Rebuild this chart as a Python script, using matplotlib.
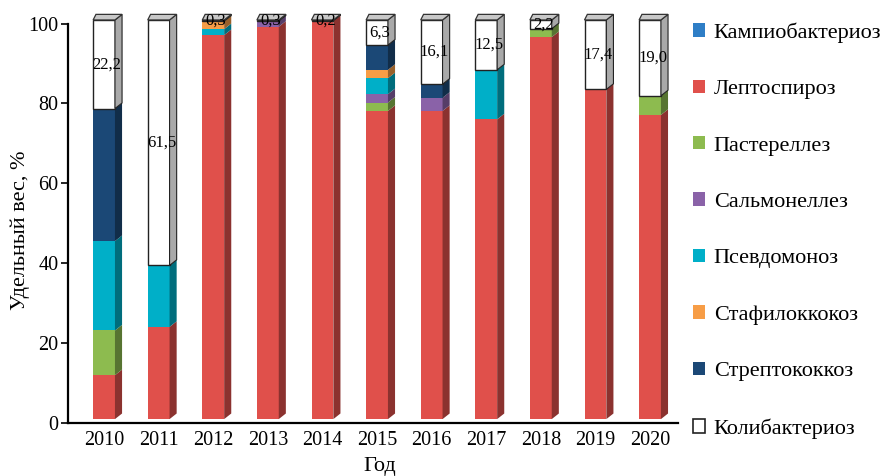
import matplotlib
matplotlib.use("Agg")
import matplotlib.pyplot as plt
from matplotlib.patches import Polygon, Patch
import matplotlib.colors as mcolors
import numpy as np

plt.rcParams['font.family'] = ['Liberation Serif', 'DejaVu Serif']

years = [2010, 2011, 2012, 2013, 2014, 2015, 2016, 2017, 2018, 2019, 2020]

# shares, %, bottom to top of each column
campylo = [0, 0, 0, 0, 0, 0, 0, 0, 0, 0, 0]
lepto = [11.0, 23.1, 96.2, 98.3, 99.8, 77.2, 77.2, 75.1, 95.7, 82.6, 76.2]
pasteur = [11.2, 0, 0, 0, 0, 2.1, 0, 0, 2.1, 0, 4.8]
salmon = [0, 0, 0, 1.4, 0, 2.1, 3.3, 0, 0, 0, 0]
pseudo = [22.4, 15.4, 1.5, 0, 0, 4.0, 0, 12.4, 0, 0, 0]
staph = [0, 0, 2.0, 0, 0, 2.1, 0, 0, 0, 0, 0]
strepto = [33.2, 0, 0, 0, 0, 6.2, 3.4, 0, 0, 0, 0]
coli = [22.2, 61.5, 0.3, 0.3, 0.2, 6.3, 16.1, 12.5, 2.2, 17.4, 19.0]

names = ["Кампиобактериоз", "Лептоспироз", "Пастереллез", "Сальмонеллез",
         "Псевдомоноз", "Стафилоккокоз", "Стрептококкоз", "Колибактериоз"]
series = [campylo, lepto, pasteur, salmon, pseudo, staph, strepto, coli]
colors = ["#2E7EC6", "#E0504B", "#8DBB4F", "#8A62A8", "#00AFC8", "#F79D46",
          "#1B4876", "#FFFFFF"]

# fake 3D look
W = 0.40      # front face width
DX = 0.13     # depth, x units
DY = 1.4      # depth, y units
FLOOR = 0.9   # columns stand a bit behind the axis line


def darker(c, f=0.62):
    r, g, b = mcolors.to_rgb(c)
    return (r * f, g * f, b * f)


fig = plt.figure(figsize=(8.89, 4.76), dpi=100)
ax = fig.add_axes([0.0765, 0.112, 0.686, 0.888])

x = np.arange(len(years))
bottom = np.full(len(years), FLOOR)
for vals, col, name in zip(series, colors, names):
    vals = np.array(vals, dtype=float)
    is_coli = name == "Колибактериоз"
    ax.bar(x, vals, W, bottom=bottom, color=col,
           edgecolor="#222222" if is_coli else col,
           linewidth=1.0 if is_coli else 0, zorder=3)
    side = "#A9A9A9" if is_coli else darker(col)
    for i in range(len(years)):
        if vals[i] <= 0:
            continue
        b, t = bottom[i], bottom[i] + vals[i]
        xr = x[i] + W / 2
        ax.add_patch(Polygon([(xr, b), (xr + DX, b + DY), (xr + DX, t + DY), (xr, t)],
                             closed=True, facecolor=side,
                             edgecolor="#222222" if is_coli else side,
                             linewidth=0.8 if is_coli else 0, zorder=3))
    bottom = bottom + vals

# top faces
for i in range(len(years)):
    T = bottom[i]
    xl, xr = x[i] - W / 2, x[i] + W / 2
    ax.add_patch(Polygon([(xl, T), (xl + DX * 0.4, T + DY), (xr + DX, T + DY), (xr, T)],
                         closed=True, facecolor="#C8C8C8", edgecolor="#333333",
                         linewidth=0.9, zorder=4))

# labels for Колибактериоз
top_start = bottom - np.array(coli)
for i in range(len(years)):
    ax.text(x[i] + DX * 0.4, top_start[i] + coli[i] / 2, f"{coli[i]:.1f}".replace(".", ","),
            ha="center", va="center", fontsize=12, zorder=5)

ax.set_xlim(-0.66, len(years) - 1 + 0.51)
ax.set_ylim(0, 105.9)
ax.set_xticks(x)
ax.set_xticklabels([str(y) for y in years])
ax.set_yticks([0, 20, 40, 60, 80, 100])
ax.tick_params(axis="x", length=0, labelsize=14.5, pad=6)
ax.tick_params(axis="y", length=5, width=1.2, labelsize=14.5, pad=2)
for s in ["top", "right"]:
    ax.spines[s].set_visible(False)
for s in ["left", "bottom"]:
    ax.spines[s].set_linewidth(1.6)
    ax.spines[s].set_zorder(6)
ax.spines["left"].set_bounds(0, 100)

fig.text(20 / 889, 1 - 230 / 476, "Удельный вес, %", rotation=90,
         ha="center", va="center", fontsize=16)
fig.text(380 / 889, 1 - 467 / 476, "Год", ha="center", va="center", fontsize=16)

handles = [Patch(facecolor=c, edgecolor="#222222" if c == "#FFFFFF" else c,
                 linewidth=1.2 if c == "#FFFFFF" else 0) for c in colors]
fig.legend(handles, names, loc="upper left", bbox_to_anchor=(0.769, 0.972),
           frameon=False, fontsize=16, handlelength=0.55, handleheight=0.55,
           handletextpad=0.4, labelspacing=1.66, borderaxespad=0)

plt.savefig("out.png", dpi=100)
